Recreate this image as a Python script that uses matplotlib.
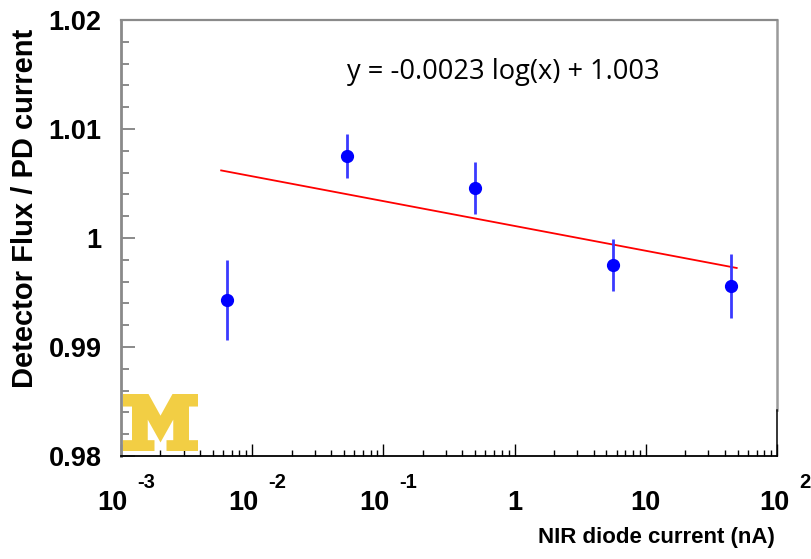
import matplotlib
matplotlib.use('Agg')
import matplotlib.pyplot as plt
from matplotlib import font_manager
from matplotlib.ticker import MultipleLocator, NullFormatter, LogLocator
from matplotlib.patches import Polygon

# data
x_current = [0.00646, 0.0525, 0.497, 5.6, 44.4]
flux_ratio = [0.9943, 1.0075, 1.0046, 0.9975, 0.9956]
flux_err = [0.0037, 0.0020, 0.0024, 0.0024, 0.0029]
fit_x = [0.0058, 49.3]
fit_y = [1.0062, 0.99725]

xtick_vals = [1e-3, 1e-2, 1e-1, 1, 10, 100]
xtick_base = ['10', '10', '10', '1', '10', '10']
xtick_exp = ['-3', '-2', '-1', '', '', '2']
ytick_vals = [0.98, 0.99, 1.00, 1.01, 1.02]
ytick_text = ['0.98', '0.99', '1', '1.01', '1.02']

names = {f.name for f in font_manager.fontManager.ttflist}
narrow = 'Liberation Sans Narrow' if 'Liberation Sans Narrow' in names else 'Liberation Sans'
plt.rcParams['font.family'] = ['Liberation Sans', 'DejaVu Sans']

fig = plt.figure(figsize=(8.11, 5.59), dpi=100)
ax = fig.add_axes([121/811, 1-456/559, 656/811, 436/559])

ax.plot(fit_x, fit_y, color='red', lw=1.3, zorder=2)
ax.errorbar(x_current, flux_ratio, yerr=flux_err, fmt='none', ecolor='#3a3aff',
            elinewidth=2, capsize=0, zorder=3)
ax.plot(x_current, flux_ratio, 'o', color='blue', ms=8.5, zorder=4)

ax.set_xscale('log')
ax.set_xlim(1e-3, 1e2)
ax.set_ylim(0.98, 1.02)

ax.set_yticks(ytick_vals)
ax.set_yticklabels(ytick_text, fontsize=19.5, fontweight='bold')
ax.yaxis.set_minor_locator(MultipleLocator(0.002))
ax.tick_params(axis='y', which='major', direction='in', length=10, width=1.2,
               color='#777777', pad=14)
ax.tick_params(axis='y', which='minor', direction='in', length=5.5, width=1.2,
               color='#777777')

ax.xaxis.set_major_locator(LogLocator(base=10, numticks=10))
ax.xaxis.set_minor_locator(LogLocator(base=10, subs=range(2, 10), numticks=20))
ax.xaxis.set_major_formatter(NullFormatter())
ax.xaxis.set_minor_formatter(NullFormatter())
ax.tick_params(axis='x', which='major', direction='in', length=9, width=1, color='black')
ax.tick_params(axis='x', which='minor', direction='in', length=4.6, width=1, color='black')

# ROOT style tick labels: 10 and exponent as two pieces
for v, b, e in zip(xtick_vals, xtick_base, xtick_exp):
    if e:
        dx = 6 if e.startswith('-') else 12
        ax.annotate(b, xy=(v, 0), xycoords=('data', 'axes fraction'),
                    xytext=(dx, -54), textcoords='offset pixels',
                    ha='right', va='baseline', fontsize=19.5, fontweight='bold')
        ax.annotate(e, xy=(v, 0), xycoords=('data', 'axes fraction'),
                    xytext=(dx + 10, -32), textcoords='offset pixels',
                    ha='left', va='baseline', fontsize=14.5, fontweight='bold')
    else:
        ax.annotate(b, xy=(v, 0), xycoords=('data', 'axes fraction'),
                    xytext=(0, -54), textcoords='offset pixels',
                    ha='center', va='baseline', fontsize=19.5, fontweight='bold')

# spines
for s in ['left', 'top']:
    ax.spines[s].set_color('#8a8a8a')
ax.spines['left'].set_linewidth(2)
ax.spines['top'].set_linewidth(1.6)
ax.spines['bottom'].set_color('black')
ax.spines['bottom'].set_linewidth(1.3)
ax.spines['right'].set_visible(False)
cut = (456 - 410) / 436
ax.plot([1, 1], [cut, 1], transform=ax.transAxes, color='#9a9a9a', lw=1.8, clip_on=False)
ax.plot([1, 1], [0, cut], transform=ax.transAxes, color='black', lw=1.1, clip_on=False)

fig.text(25/811, 1-208/559, 'Detector Flux / PD current', rotation=90,
         ha='center', va='center', fontsize=21, fontweight='bold')
fig.text(775/811, 1-543/559, 'NIR diode current (nA)', ha='right', va='baseline',
         fontsize=19.2 if narrow != 'Liberation Sans' else 16, fontweight='bold',
         family=narrow)

ax.text(503/811, 1-72/559, 'y = -0.0023 log(x) + 1.003', transform=fig.transFigure,
        ha='center', va='center', fontsize=19.6, family=['Open Sans', 'DejaVu Sans'])

# block M logo
m_shape = [(0, 0), (0.42, 0), (0.42, 0.19), (0.33, 0.19), (0.33, 0.55), (0.5, 0.15),
           (0.67, 0.55), (0.67, 0.19), (0.58, 0.19), (0.58, 0), (1, 0), (1, 0.19),
           (0.88, 0.19), (0.88, 0.78), (1, 0.78), (1, 1), (0.66, 1), (0.5, 0.62),
           (0.34, 1), (0, 1), (0, 0.78), (0.12, 0.78), (0.12, 0.19), (0, 0.19)]
x0, x1, y0, y1 = 123/811, 198/811, 1-451/559, 1-394/559
pts = [(x0 + u*(x1-x0), y0 + w*(y1-y0)) for u, w in m_shape]
fig.patches.append(Polygon(pts, closed=True, facecolor='#f2ce44', edgecolor='none',
                           transform=fig.transFigure, zorder=10))

fig.savefig('out.png', dpi=100)
